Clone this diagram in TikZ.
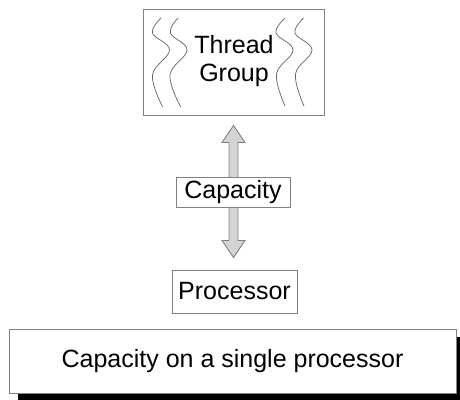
\documentclass[tikz,border=0pt]{standalone}
\usepackage{fontspec}
\setmainfont{Liberation Sans}
\usetikzlibrary{calc,shadows}
\definecolor{edge}{RGB}{128,128,128}
\definecolor{arrowfill}{RGB}{212,212,212}
\definecolor{threadcol}{RGB}{105,105,105}
\begin{document}
\begin{tikzpicture}[x=1pt,y=-1pt,
  box/.style={draw=edge,line width=1pt,fill=white,inner sep=0pt,font=\fontsize{25}{28}\selectfont},
  label/.style={inner sep=0pt,align=center,font=\fontsize{25}{28}\selectfont},
  threadline/.style={draw=threadcol,line width=0.75pt},
  blockarrow/.style={draw=edge,fill=arrowfill,line width=0.9pt,line join=miter},
  shadowbox/.style={box,general shadow={fill=black,shadow xshift=9pt,shadow yshift=-8pt}}]
\useasboundingbox (0,0) rectangle (460,399);
% thread group
\node[box,minimum width=181pt,minimum height=106pt] (tg) at (233.5,62) {};
\node[label] (tgtext) at (234,60.6) {Thread\\Group};
\draw[threadline] plot[smooth,tension=0.65] coordinates {(161,18) (152.5,33) (169.5,50) (152.5,75) (162.7,107)};
\draw[threadline] plot[smooth,tension=0.65] coordinates {(178,18) (170.5,33) (187,50) (170,75) (180.7,107)};
\draw[threadline] plot[smooth,tension=0.65] coordinates {(285,18) (276,33) (293,50) (276.5,74) (285,106)};
\draw[threadline] plot[smooth,tension=0.65] coordinates {(303.5,18) (295,33) (312,50) (295.5,74) (304,106)};
% processor
\node[box,minimum width=125pt,minimum height=43pt] (proc) at (234.5,291.5) {Processor};
% double block arrow
\coordinate (atop) at ($(tg.south)+(0,10)$);
\coordinate (abot) at ($(tg.south |- proc.north)+(0,-12)$);
\draw[blockarrow] (atop) -- ($(atop)+(11.5,17)$) -- ($(atop)+(4.5,17)$)
  -- ($(abot)+(4.5,-17)$) -- ($(abot)+(11.5,-17)$) -- (abot)
  -- ($(abot)+(-11.5,-17)$) -- ($(abot)+(-4.5,-17)$)
  -- ($(atop)+(-4.5,17)$) -- ($(atop)+(-11.5,17)$) -- cycle;
% capacity
\node[box,minimum width=114pt,minimum height=30pt] (cap) at (233,192) {Capacity};
% bottom title
\node[shadowbox,minimum width=447pt,minimum height=64pt] (title) at (232.5,361) {Capacity on a single processor};
\end{tikzpicture}
\end{document}
